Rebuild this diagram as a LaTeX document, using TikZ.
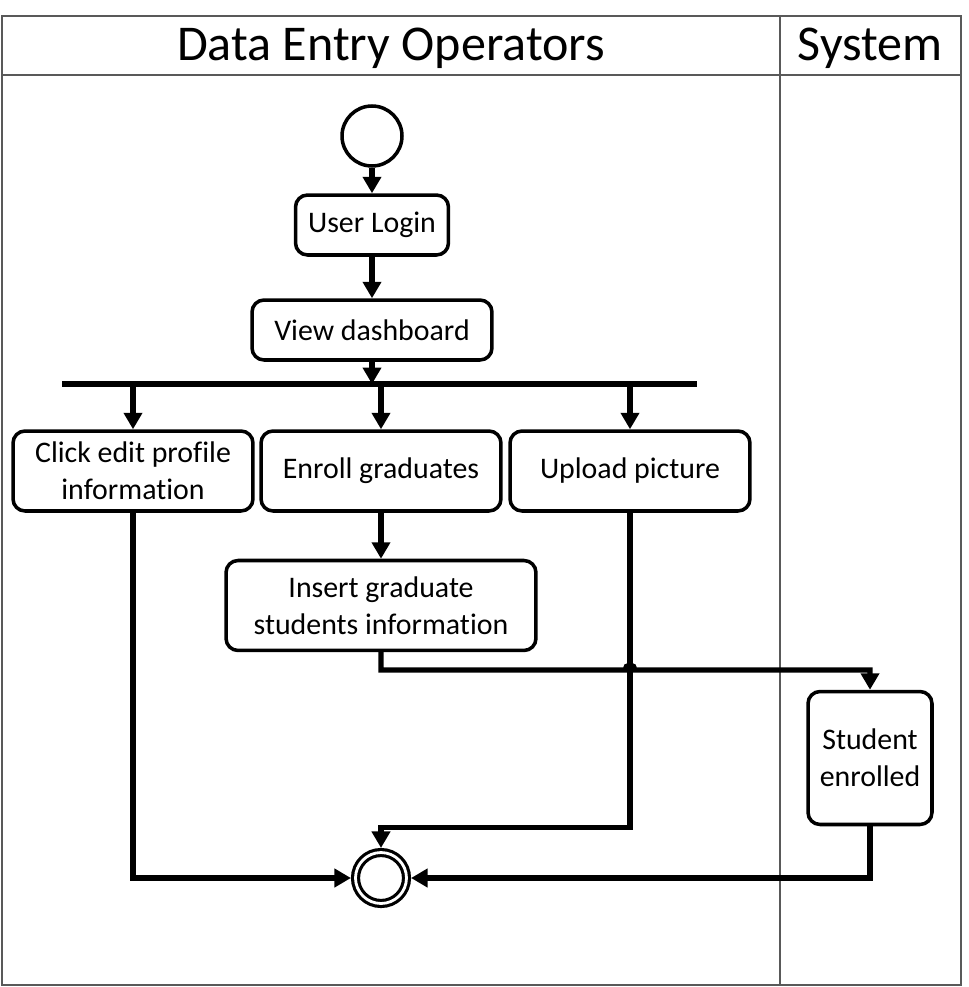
\documentclass[tikz,border=0pt]{standalone}
\usepackage{fontspec}
\setmainfont{Carlito}[Ligatures=NoCommon]
\usetikzlibrary{arrows.meta}

\begin{document}
\begin{tikzpicture}
		[x=0.02cm,y=-0.02cm,font=\fontsize{17}{21}\selectfont,
		act/.style={rectangle,draw,rounded corners=0.24cm,line width=2pt,align=center,minimum width=4.8cm,minimum height=1.6cm},
		flow/.style={-{Triangle[width=0.36cm,length=0.33cm]},line width=3pt},
		lane/.style={draw=gray!70!black,line width=0.8pt}]
		\useasboundingbox (0,0) rectangle (969,987);
		% swimlanes
		\draw[lane] (2,16) rectangle (961,985);
		\draw[lane] (2,75) -- (961,75);
		\draw[lane] (780,16) -- (780,985);
		\node (OpsLane) [font=\fontsize{28.5}{34}\selectfont] at (391,48) {Data Entry Operators};
		\node (SysLane) [font=\fontsize{28.5}{34}\selectfont] at (870,48) {System};
		% activities
		\node (Start) [circle,draw,line width=2pt,minimum size=1.2cm] at (372,136) {};
		\node (UserLogin) [act,minimum width=3.06cm,minimum height=1.2cm] at (372,225) {User Login};
		\node (ViewDashboard) [act,minimum height=1.2cm] at (372,330) {View dashboard};
		\node (EditProfile) [act] at (133,471) {Click edit profile\\information};
		\node (EnrollGrad) [act] at (381,471) {Enroll graduates};
		\node (UploadPic) [act] at (630,471) {Upload picture};
		\node (InsertInfo) [act,anchor=north,minimum width=6.2cm,minimum height=1.8cm,yshift=-0.92cm] at (EnrollGrad.south) {Insert graduate\\students information};
		\node (Enrolled) [act,minimum width=2.48cm,minimum height=2.66cm] at (870,758) {Student\\enrolled};
		\node (Final) [circle,draw,line width=1.8pt,double,double distance=1.6pt,minimum size=1.02cm,outer sep=2.6pt] at (381,878) {};
		% fork bar
		\coordinate (ForkL) at (62,384);
		\coordinate (ForkR) at (697,384);
		\draw[line width=3pt] (ForkL) -- (ForkR);
		% flows
		\draw[flow] (Start) -- (UserLogin);
		\draw[flow] (UserLogin) -- (ViewDashboard);
		\draw[flow] (ViewDashboard) -- (ViewDashboard.south |- ForkL);
		\foreach \n in {EditProfile,EnrollGrad,UploadPic}
			\draw[flow] (\n.north |- ForkL) -- (\n);
		\draw[flow] (EnrollGrad) -- (InsertInfo);
		\coordinate (Hop) at (625,670);
		\draw[flow] (InsertInfo.south) |- (Hop) arc[start angle=180,end angle=0,radius=0.1cm] -| (Enrolled.north);
		\draw[flow] (UploadPic.south) -- ++(0,315) -| (Final.north);
		\draw[flow] (EditProfile.south) |- (Final.west);
		\draw[flow] (Enrolled.south) |- (Final.east);
	\end{tikzpicture}
\end{document}
